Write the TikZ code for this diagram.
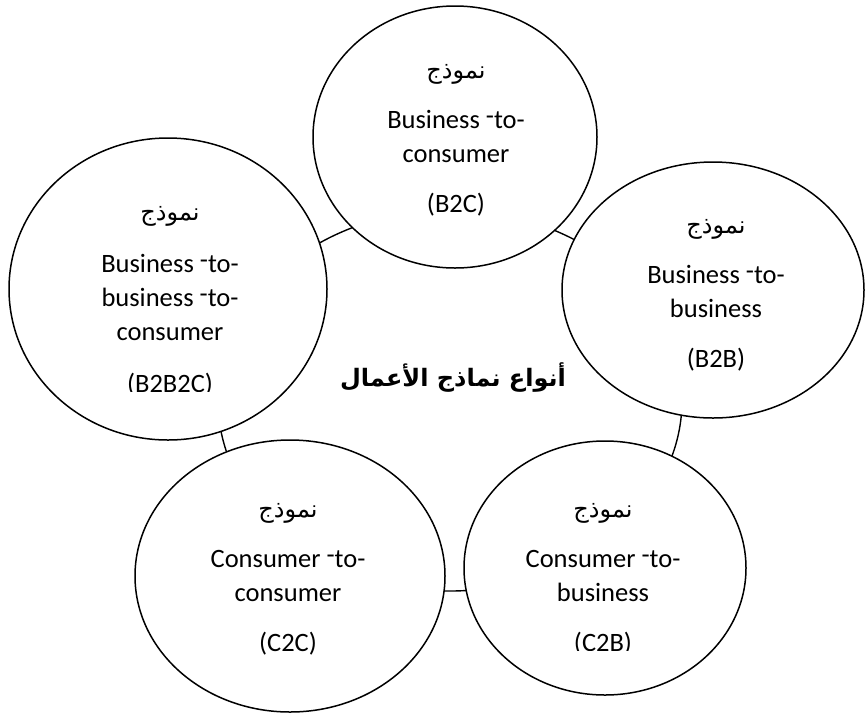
\documentclass[tikz,border=0pt]{standalone}
\usepackage{fontspec}
\setmainfont{Carlito}
\newfontfamily\arabicfont[Script=Arabic]{DejaVu Sans}
\TeXXeTstate=1
\usetikzlibrary{shapes.geometric}
\newcommand{\updash}{\raisebox{0.3ex}{-}}
\newcommand{\arab}[1]{{\arabicfont\fontsize{24}{34}\selectfont\beginR #1\endR}}
\tikzset{
  ring/.style={draw, ellipse, line width=1.4pt, inner sep=0pt},
  model/.style={draw, ellipse, fill=white, line width=1.5pt, inner sep=0pt},
  mtext/.style={align=center, inner sep=0pt, font=\fontsize{26.5}{34}\selectfont},
  title/.style={inner sep=0pt, font=\arabicfont\bfseries\fontsize{24}{30}\selectfont}}

\begin{document}
\begin{tikzpicture}[x=1pt, y=-1pt]
  \useasboundingbox (0,0) rectangle (865,716);
  % ring behind the five models
  \node[ring, minimum width=464pt, minimum height=381pt] (cycle) at (450,400.5) {};
  \node[model, minimum width=284pt, minimum height=262pt] (b2c) at (455,137) {};
  \node[model, minimum width=302pt, minimum height=256pt] (b2b) at (713,290) {};
  \node[model, minimum width=282pt, minimum height=254pt] (c2b) at (605,568) {};
  \node[model, minimum width=310pt, minimum height=272pt] (c2c) at (290,576) {};
  \node[model, minimum width=318pt, minimum height=302pt] (b2b2c) at (168,289) {};
  % texts
  \node[title] (types) at (453,378) {\beginR أنواع نماذج الأعمال\endR};
  \node[mtext] (b2c-txt) at ([shift={(1,3)}]b2c.center)
    {\arab{نموذج}\\[16pt] Business \updash to-\\consumer\\[16pt] (B2C)};
  \node[mtext] (b2b-txt) at ([shift={(3,5)}]b2b.center)
    {\arab{نموذج}\\[16pt] Business \updash to-\\business\\[16pt] (B2B)};
  \node[mtext] (c2c-txt) at ([shift={(-2,3)}]c2c.center)
    {\arab{نموذج}\\[16pt] Consumer \updash to-\\consumer\\[16pt] (C2C)};
  % the last line of these two is cut at the bottom
  \begin{scope}
    \clip (0,0) rectangle (865,650);
    \node[mtext] (c2b-txt) at ([shift={(-2,11)}]c2b.center)
      {\arab{نموذج}\\[16pt] Consumer \updash to-\\business\\[16pt] (C2B)};
  \end{scope}
  \begin{scope}
    \clip (0,0) rectangle (865,391);
    \node[mtext] (b2b2c-txt) at ([shift={(2,12)}]b2b2c.center)
      {\arab{نموذج}\\[18pt] Business \updash to-\\business \updash to-\\consumer\\[18pt] (B2B2C)};
  \end{scope}
\end{tikzpicture}
\end{document}
